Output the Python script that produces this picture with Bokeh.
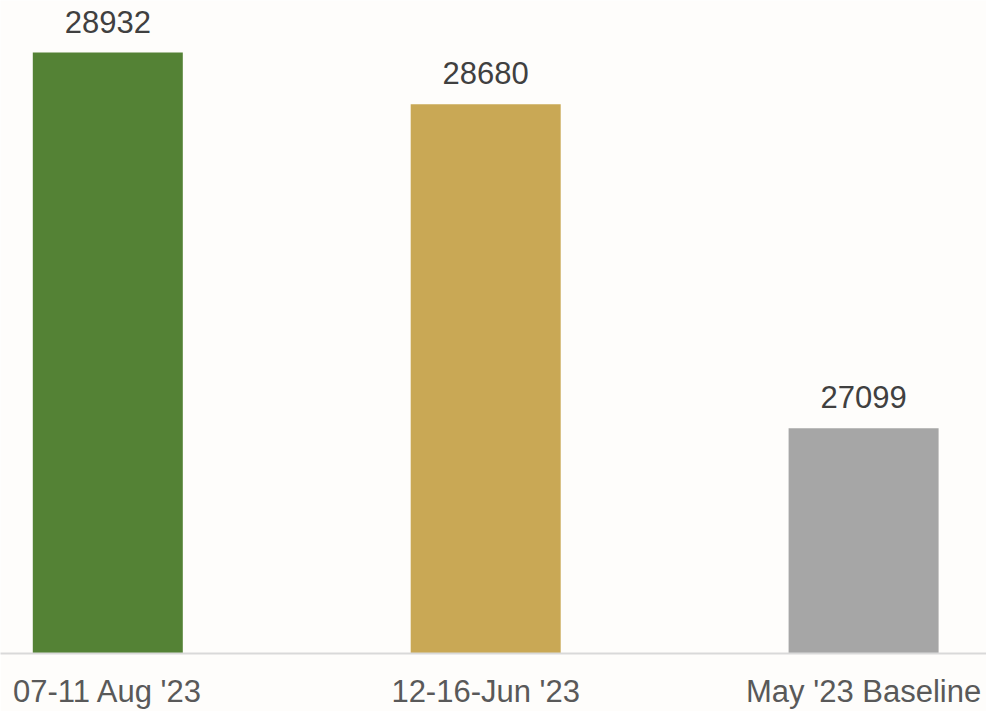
from bokeh.plotting import figure
from bokeh.models import Range1d, ColumnDataSource, FixedTicker
from bokeh.embed import file_html
from bokeh.resources import INLINE
from bokeh.core.properties import value

categories = ["07-11 Aug '23", "12-16-Jun '23", "May '23 Baseline"]
values = [28932, 28680, 27099]
colors = ["#548235", "#C9A855", "#A6A6A6"]
axis_min = 26000
axis_max = 29186

xs = list(range(len(categories)))
src = ColumnDataSource(dict(x=xs, top=values, color=colors,
                            label=[str(v) for v in values]))

W, H = 986, 711
cat_px = 377.9
first_center = 107.3

p = figure(width=W, height=H, output_backend="svg", toolbar_location=None,
           x_range=Range1d(-first_center / cat_px, (W - first_center) / cat_px),
           y_range=Range1d(axis_min, axis_max),
           min_border_left=0, min_border_right=0, min_border_top=0,
           min_border_bottom=57)

p.vbar(x="x", top="top", bottom=axis_min, width=150 / cat_px, color="color",
       line_color=None, source=src)

p.text(x="x", y="top", text="label", source=src, text_align="center",
       text_baseline="alphabetic", y_offset=-31,
       text_font=value("Liberation Sans"), text_font_size="31px",
       text_color="#404040")

p.background_fill_color = "#FEFDFB"
p.border_fill_color = "#FEFDFB"
p.outline_line_color = None
p.xgrid.visible = False
p.ygrid.visible = False
p.yaxis.visible = False

ax = p.xaxis[0]
ax.ticker = FixedTicker(ticks=xs)
ax.major_label_overrides = {i: c for i, c in enumerate(categories)}
ax.axis_line_color = "#D9D9D9"
ax.axis_line_width = 2
ax.major_tick_line_color = None
ax.minor_tick_line_color = None
ax.major_tick_out = 0
ax.major_tick_in = 0
ax.major_label_standoff = 20
ax.major_label_text_font = "Liberation Sans"
ax.major_label_text_font_size = "31px"
ax.major_label_text_color = "#595959"

open("out.html", "w").write(file_html(p, INLINE))
